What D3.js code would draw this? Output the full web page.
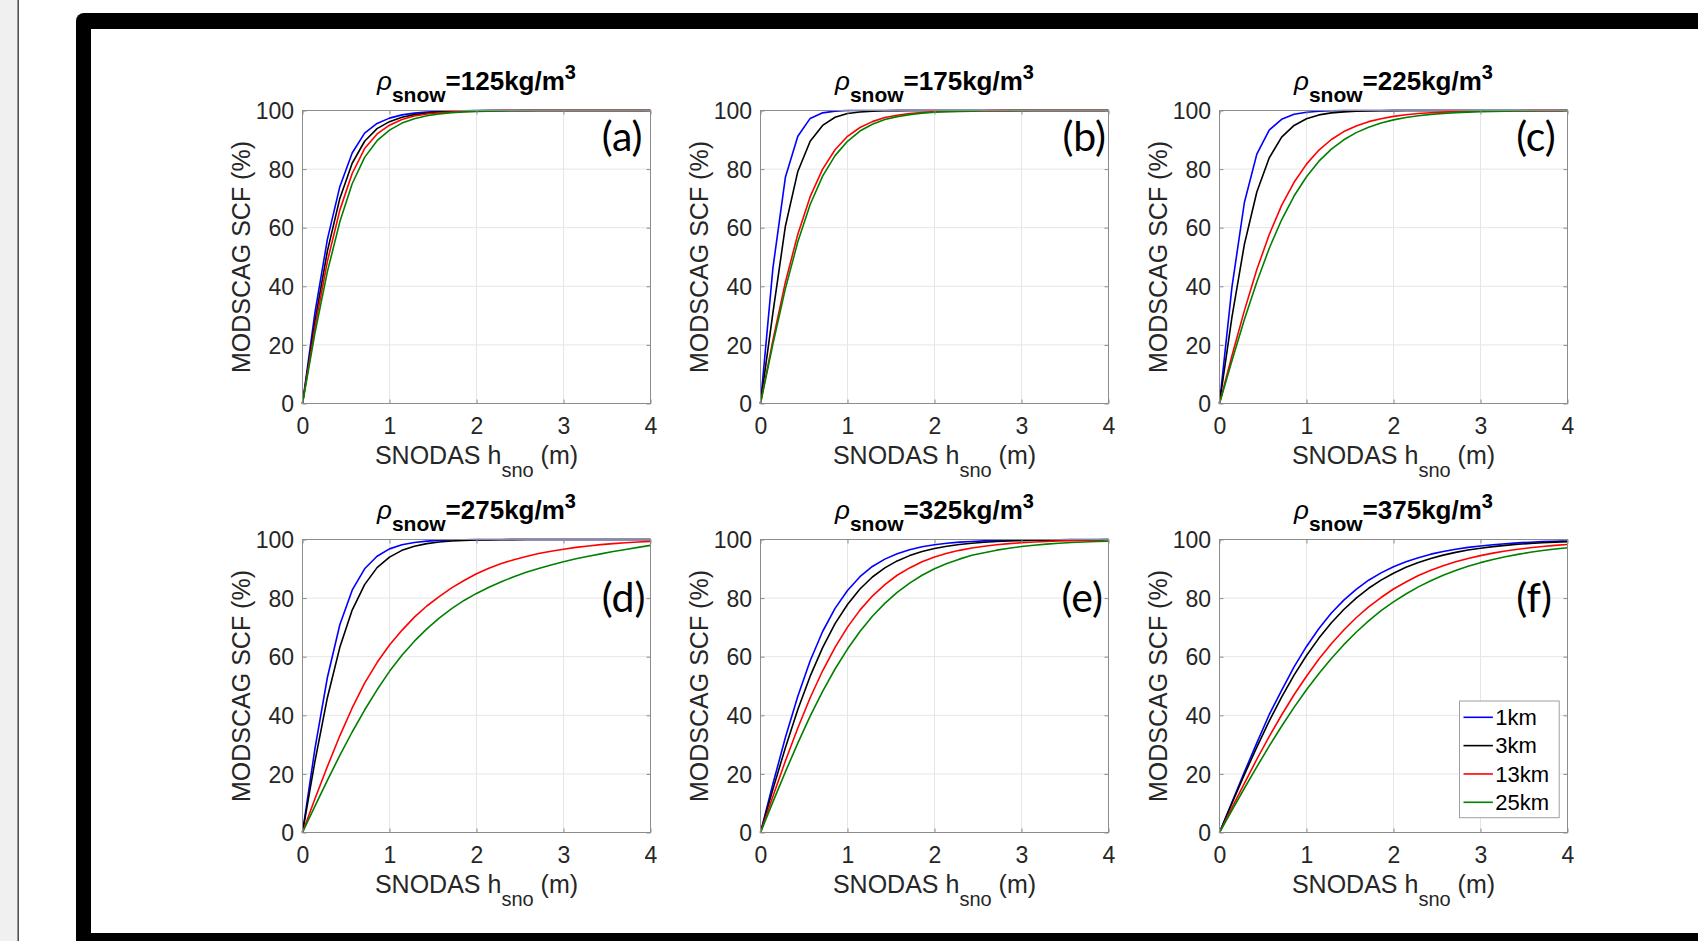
<!DOCTYPE html>
<html><head><meta charset="utf-8">
<script src="https://cdn.jsdelivr.net/npm/d3@7"></script>
<style>html,body{margin:0;padding:0;background:#fff;overflow:hidden}</style>
</head><body><svg id="c" width="1698" height="941"></svg>
<script>
// ---------------- data ----------------
const hSno = [0, 0.143, 0.286, 0.429, 0.571, 0.714, 0.857, 1, 1.143, 1.286, 1.429, 1.571, 1.714, 1.857, 2,
  2.143, 2.286, 2.429, 2.571, 2.714, 2.857, 3, 3.143, 3.286, 3.429, 3.571, 3.714, 3.857, 4];
const densities = [125, 175, 225, 275, 325, 375];
const panelLabels = ["(a)", "(b)", "(c)", "(d)", "(e)", "(f)"];
const seriesNames = ["1km", "3km", "13km", "25km"];
const xTicks = [0, 1, 2, 3, 4];
const yTicks = [0, 20, 40, 60, 80, 100];

const scf125_1km  = [0,31,56,74,85.5,92.3,95.6,97.4,98.5,99.1,99.5,99.7,99.85,99.9,99.95,100,100,100,100,100,100,100,100,100,100,100,100,100,100];
const scf125_3km  = [0,28,52,70,82,89.5,93.8,96.2,97.7,98.6,99.1,99.45,99.65,99.8,99.9,99.95,100,100,100,100,100,100,100,100,100,100,100,100,100];
const scf125_13km = [0,26,48.5,66,78.5,87,92,95,96.9,98.1,98.8,99.25,99.5,99.7,99.8,99.9,99.95,100,100,100,100,100,100,100,100,100,100,100,100];
const scf125_25km = [0,24,45,62,75,84,89.7,93.3,95.7,97.2,98.2,98.85,99.25,99.5,99.7,99.8,99.88,99.93,99.96,100,100,100,100,100,100,100,100,100,100];

const scf175_1km  = [0,46.3,77.2,91.2,97.3,99.2,99.8,100,100,100,100,100,100,100,100,100,100,100,100,100,100,100,100,100,100,100,100,100,100];
const scf175_3km  = [0,31,60.5,79.2,89.5,94.9,97.7,99,99.5,99.8,99.9,99.95,100,100,100,100,100,100,100,100,100,100,100,100,100,100,100,100,100];
const scf175_13km = [0,21.6,41.4,57.8,70.6,80,86.6,91.2,94.2,96.2,97.6,98.4,99,99.3,99.6,99.7,99.8,99.9,99.9,99.95,99.97,100,100,100,100,100,100,100,100];
const scf175_25km = [0,20.4,39.2,55.2,67.9,77.6,84.6,89.5,93,95.3,96.9,97.9,98.6,99.1,99.4,99.6,99.7,99.8,99.9,99.9,99.95,99.97,100,100,100,100,100,100,100];

const scf225_1km  = [0,39.7,68.6,85.1,93.3,97,98.7,99.4,99.76,99.9,99.96,100,100,100,100,100,100,100,100,100,100,100,100,100,100,100,100,100,100];
const scf225_3km  = [0,29.5,54.3,72.2,83.8,90.9,94.9,97.2,98.5,99.2,99.54,99.75,99.86,99.93,99.96,100,100,100,100,100,100,100,100,100,100,100,100,100,100];
const scf225_13km = [0,16.3,31.7,45.7,57.6,67.6,75.5,81.7,86.5,90.1,92.8,94.7,96.2,97.2,98,98.55,98.96,99.25,99.46,99.61,99.72,99.8,99.86,99.9,99.93,99.95,99.96,99.97,99.98];
const scf225_25km = [0,14.6,28.7,41.5,52.9,62.7,70.8,77.4,82.7,86.8,90,92.45,94.3,95.7,96.8,97.6,98.2,98.67,99,99.26,99.45,99.59,99.7,99.77,99.83,99.87,99.9,99.93,99.95];

const scf275_1km  = [0,28.6,52.9,70.9,82.7,90,94.3,96.8,98.2,99,99.45,99.7,99.83,99.91,99.95,100,100,100,100,100,100,100,100,100,100,100,100,100,100];
const scf275_3km  = [0,24.3,46,63.2,75.9,84.6,90.4,94,96.3,97.7,98.6,99.16,99.48,99.69,99.81,99.88,99.93,99.96,100,100,100,100,100,100,100,100,100,100,100];
const scf275_13km = [0,11.5,22.5,33,42.5,51,58,64,69,73.5,77.3,80.5,83.5,86,88.3,90.2,91.8,93.1,94.2,95.2,96,96.7,97.3,97.8,98.25,98.6,98.9,99.15,99.35];
const scf275_25km = [0,9,17.8,26.3,34.3,41.8,48.7,55,60.5,65.3,69.5,73.2,76.4,79.2,81.6,83.7,85.6,87.3,88.8,90.1,91.3,92.4,93.4,94.3,95.1,95.9,96.6,97.3,98];

const scf325_1km  = [0,16.65,32.4,46.5,58.6,68.6,76.5,82.6,87.3,90.8,93.3,95.15,96.5,97.5,98.2,98.7,99.1,99.34,99.53,99.66,99.76,99.83,99.88,99.91,99.94,99.95,99.97,99.98,99.98];
const scf325_3km  = [0,14.8,28.95,41.95,53.35,63.1,71.3,77.8,83.1,87.2,90.3,92.7,94.5,95.9,96.9,97.7,98.3,98.74,99.07,99.31,99.49,99.62,99.72,99.79,99.84,99.88,99.91,99.94,99.95];
const scf325_13km = [0,12.35,24.4,35.65,46,55.2,63.2,70.1,75.9,80.7,84.6,87.8,90.3,92.4,94,95.3,96.3,97.1,97.7,98.2,98.6,98.9,99.16,99.34,99.49,99.6,99.69,99.76,99.81];
const scf325_25km = [0,10.46,20.7,30.5,39.7,48.2,55.8,62.6,68.6,73.8,78.2,81.95,85.1,87.8,90,91.8,93.3,94.6,95.5,96.36,97,97.6,98.05,98.42,98.72,98.96,99.16,99.31,99.44];

const scf375_1km  = [0,10.3,20.6,30.6,40.2,48.5,56.5,63.5,69.6,74.9,79.3,83,86.1,88.6,90.7,92.4,93.8,95,95.9,96.7,97.3,97.8,98.2,98.55,98.85,99.08,99.26,99.4,99.52];
const scf375_3km  = [0,9.97,19.74,29.13,38,46.2,53.7,60.4,66.35,71.6,76.1,80,83.35,86.15,88.5,90.5,92.15,93.5,94.66,95.6,96.4,97.04,97.56,98,98.36,98.65,98.9,99.1,99.26];
const scf375_13km = [0,8.5,16.8,25,32.75,40.1,47,53.35,59.2,64.4,69.1,73.3,77,80.2,83.1,85.5,87.7,89.5,91.05,92.4,93.54,94.5,95.35,96.06,96.67,97.2,97.6,98,98.3];
const scf375_25km = [0,7.59,15.1,22.4,29.5,36.27,42.7,48.7,54.27,59.4,64.1,68.35,72.2,75.7,78.7,81.4,83.83,85.95,87.8,89.45,90.87,92.1,93.2,94.12,94.93,95.62,96.23,96.75,97.2];

const panelSeries = [
  [scf125_1km, scf125_3km, scf125_13km, scf125_25km],
  [scf175_1km, scf175_3km, scf175_13km, scf175_25km],
  [scf225_1km, scf225_3km, scf225_13km, scf225_25km],
  [scf275_1km, scf275_3km, scf275_13km, scf275_25km],
  [scf325_1km, scf325_3km, scf325_13km, scf325_25km],
  [scf375_1km, scf375_3km, scf375_13km, scf375_25km]
];

// ---------------- layout / style ----------------
const seriesColors = ["#0000ff", "#000000", "#ff0000", "#008000"];
const colX = [302.5, 760.5, 1219.5];
const rowY = [110.5, 539.5];
const W = 348, H = 293;
const labelPos = [[3.44, 86.2], [3.47, 86.2], [3.41, 86.2], [3.44, 75.4], [3.46, 75.4], [3.41, 75.4]];
const FONT = "'Liberation Sans', Arial, Helvetica, sans-serif";
const TXT = "#262626";
const AX = "#8c8c8c";
const GRID = "#e6e6e6";

const svg = d3.select("#c");
svg.append("rect").attr("width", 1698).attr("height", 941).attr("fill", "#fff");
// page chrome
svg.append("rect").attr("x", 0).attr("y", 0).attr("width", 17.5).attr("height", 941).attr("fill", "#f0f0f0");
svg.append("line").attr("x1", 18.2).attr("x2", 18.2).attr("y1", 0).attr("y2", 941).attr("stroke", "#444").attr("stroke-width", 1.5);
svg.append("rect").attr("x", 76).attr("y", 13).attr("width", 1700).attr("height", 1000).attr("rx", 8).attr("fill", "#000");
svg.append("rect").attr("x", 91).attr("y", 29).attr("width", 1700).attr("height", 904).attr("fill", "#fff");

const x = d3.scaleLinear().domain([0, 4]).range([0, W]);
const y = d3.scaleLinear().domain([0, 100]).range([H, 0]);

densities.forEach((rho, i) => {
  const r = Math.floor(i / 3), c = i % 3;
  const g = svg.append("g").attr("transform", `translate(${colX[c]},${rowY[r]})`);

  // grid
  g.selectAll(".gx").data(xTicks).join("line")
    .attr("x1", d => x(d)).attr("x2", d => x(d)).attr("y1", 0).attr("y2", H)
    .attr("stroke", GRID).attr("stroke-width", 1);
  g.selectAll(".gy").data(yTicks).join("line")
    .attr("x1", 0).attr("x2", W).attr("y1", d => y(d)).attr("y2", d => y(d))
    .attr("stroke", GRID).attr("stroke-width", 1);

  // curves
  const line = d3.line().x((d, k) => x(hSno[k])).y(d => y(d)).curve(d3.curveLinear);
  panelSeries[i].forEach((vals, s) => {
    g.append("path").attr("d", line(vals)).attr("fill", "none")
      .attr("stroke", seriesColors[s]).attr("stroke-width", 1.6).attr("stroke-linejoin", "round");
  });

  // axes (ticks inside)
  const styleAxis = sel => {
    sel.select(".domain").remove();
    sel.selectAll(".tick line").attr("stroke", AX);
    sel.selectAll(".tick text").attr("fill", TXT).attr("font-family", FONT).attr("font-size", 23);
  };
  g.append("g").attr("transform", `translate(0,${H})`)
    .call(d3.axisBottom(x).tickValues(xTicks).tickFormat(d3.format("d")).tickSizeInner(-4).tickSizeOuter(0))
    .call(styleAxis)
    .call(a => a.selectAll(".tick text").attr("y", 30.5).attr("dy", 0));
  g.append("g")
    .call(d3.axisLeft(y).tickValues(yTicks).tickFormat(d3.format("d")).tickSizeInner(-4).tickSizeOuter(0))
    .call(styleAxis)
    .call(a => a.selectAll(".tick text").attr("x", -8.5).attr("dy", "0.36em"));
  g.append("g")
    .call(d3.axisTop(x).tickValues(xTicks).tickFormat("").tickSizeInner(-4).tickSizeOuter(0))
    .call(styleAxis);
  g.append("g").attr("transform", `translate(${W},0)`)
    .call(d3.axisRight(y).tickValues(yTicks).tickFormat("").tickSizeInner(-4).tickSizeOuter(0))
    .call(styleAxis);

  // box
  g.append("rect").attr("width", W).attr("height", H).attr("fill", "none")
    .attr("stroke", AX).attr("stroke-width", 1);

  // title
  const t = g.append("text").attr("x", W / 2).attr("y", -20.5).attr("text-anchor", "middle")
    .attr("font-family", FONT).attr("fill", "#000");
  t.append("tspan").attr("font-style", "italic").attr("font-size", 26).text("ρ");
  t.append("tspan").attr("font-weight", "bold").attr("font-size", 21).attr("dy", 11.5).text("snow");
  t.append("tspan").attr("font-weight", "bold").attr("font-size", 26).attr("dy", -11.5).text(`=${rho}kg/m`);
  t.append("tspan").attr("font-weight", "bold").attr("font-size", 20).attr("dy", -11).text("3");

  // x label
  const xl = g.append("text").attr("x", W / 2).attr("y", H + 60).attr("text-anchor", "middle")
    .attr("font-family", FONT).attr("font-size", 25).attr("fill", TXT);
  xl.append("tspan").text("SNODAS h");
  xl.append("tspan").attr("font-size", 20).attr("dy", 13.5).text("sno");
  xl.append("tspan").attr("dy", -13.5).text(" (m)");

  // y label
  g.append("text").attr("transform", `translate(-53,${H / 2}) rotate(-90)`)
    .attr("text-anchor", "middle").attr("font-family", FONT).attr("font-size", 25)
    .attr("fill", TXT).text("MODSCAG SCF (%)");

  // panel label
  g.append("text").attr("x", x(labelPos[i][0])).attr("y", y(labelPos[i][1]))
    .attr("font-family", "Lato, 'Open Sans', sans-serif").attr("font-size", 41)
    .attr("fill", "#000").text(panelLabels[i]);

  // legend in last panel
  if (i === 5) {
    const lg = g.append("g").attr("transform", `translate(${W - 108},161.5)`);
    lg.append("rect").attr("width", 99.7).attr("height", 116.7).attr("fill", "#fff")
      .attr("stroke", "#a0a0a0").attr("stroke-width", 1);
    seriesNames.forEach((name, s) => {
      const cy = 16.3 + 28.33 * s;
      lg.append("line").attr("x1", 4).attr("x2", 33.4).attr("y1", cy).attr("y2", cy)
        .attr("stroke", seriesColors[s]).attr("stroke-width", 1.6);
      lg.append("text").attr("x", 35.7).attr("y", cy + 7.8).attr("font-family", FONT)
        .attr("font-size", 22).attr("fill", "#000").text(name);
    });
  }
});
</script>
</body></html>
